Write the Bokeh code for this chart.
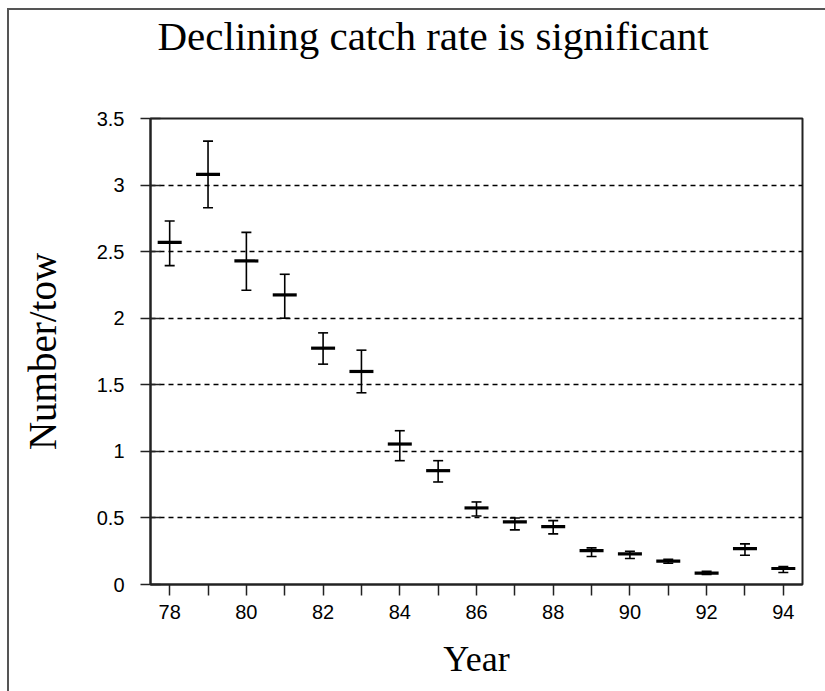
from bokeh.plotting import figure
from bokeh.models import FixedTicker, Range1d, ColumnDataSource, Title
from bokeh.layouts import column
from bokeh.embed import file_html
from bokeh.resources import INLINE

# ---- data ----
years = [78, 79, 80, 81, 82, 83, 84, 85, 86, 87, 88, 89, 90, 91, 92, 93, 94]
mean_catch = [2.57, 3.08, 2.43, 2.175, 1.775, 1.60, 1.055, 0.855, 0.575, 0.47,
              0.435, 0.255, 0.23, 0.175, 0.085, 0.27, 0.12]
upper_ci = [2.73, 3.33, 2.645, 2.33, 1.89, 1.76, 1.155, 0.93, 0.62, 0.50,
            0.48, 0.275, 0.25, 0.19, 0.10, 0.305, 0.135]
lower_ci = [2.395, 2.83, 2.21, 2.0, 1.655, 1.44, 0.93, 0.77, 0.515, 0.41,
            0.38, 0.21, 0.195, 0.16, 0.075, 0.22, 0.09]
x_major_ticks = [78, 80, 82, 84, 86, 88, 90, 92, 94]
x_minor_ticks = [79, 81, 83, 85, 87, 89, 91, 93]
y_ticks = [0, 0.5, 1, 1.5, 2, 2.5, 3, 3.5]
y_tick_labels = ["0", "0.5", "1", "1.5", "2", "2.5", "3", "3.5"]

title_text = "Declining catch rate is significant"
x_label = "Year"
y_label = "Number/tow"

src = ColumnDataSource(dict(year=years, mean=mean_catch, upper=upper_ci, lower=lower_ci))

p = figure(width=816, height=681,
           x_range=Range1d(77.5, 94.5), y_range=Range1d(0, 3.5),
           output_backend="svg", toolbar_location=None,
           min_border_left=141, min_border_right=23,
           min_border_top=108, min_border_bottom=107,
           background_fill_color="white", border_fill_color="white")

# title (outermost) plus a blank spacer title between it and the frame
p.title.text = title_text
p.title.align = "left"
p.title.offset = 7
p.title.text_font = "Liberation Serif"
p.title.text_font_size = "41px"
p.title.text_font_style = "normal"
p.title.text_color = "black"
p.title.standoff = 0
spacer = Title(text=" ", text_font_size="10px", standoff=47)
p.add_layout(spacer, "above")

# frame outline
p.outline_line_color = "#222222"
p.outline_line_width = 2
p.outline_line_alpha = 1

# x axis
xa = p.xaxis[0]
xa.ticker = FixedTicker(ticks=x_major_ticks, minor_ticks=x_minor_ticks)
xa.axis_line_color = "#222222"
xa.axis_line_width = 2
xa.major_tick_line_color = "#222222"
xa.major_tick_line_width = 1.5
xa.major_tick_in = 0
xa.major_tick_out = 11
xa.minor_tick_line_color = "#222222"
xa.minor_tick_line_width = 1.5
xa.minor_tick_in = 0
xa.minor_tick_out = 11
xa.major_label_text_font = "Liberation Sans"
xa.major_label_text_font_size = "20px"
xa.major_label_text_color = "black"
xa.major_label_standoff = 9
xa.axis_label = x_label
xa.axis_label_text_font = "Liberation Serif"
xa.axis_label_text_font_size = "36px"
xa.axis_label_text_font_style = "normal"
xa.axis_label_text_color = "black"
xa.axis_label_standoff = 17

# y axis
ya = p.yaxis[0]
ya.ticker = FixedTicker(ticks=y_ticks)
ya.major_label_overrides = {t: s for t, s in zip(y_ticks, y_tick_labels)}
ya.axis_line_color = "#222222"
ya.axis_line_width = 2
ya.major_tick_line_color = "#222222"
ya.major_tick_line_width = 1.5
ya.major_tick_in = 10
ya.major_tick_out = 10
ya.minor_tick_line_color = None
ya.major_label_text_font = "Liberation Sans"
ya.major_label_text_font_size = "20px"
ya.major_label_text_color = "black"
ya.major_label_standoff = 16
ya.axis_label = y_label
ya.axis_label_text_font = "Liberation Serif"
ya.axis_label_text_font_size = "39px"
ya.axis_label_text_font_style = "normal"
ya.axis_label_text_color = "black"
ya.axis_label_standoff = 30

# grid
p.xgrid.grid_line_color = None
p.ygrid.ticker = FixedTicker(ticks=y_ticks)
p.ygrid.grid_line_color = "black"
p.ygrid.grid_line_width = 1.3
p.ygrid.grid_line_dash = "5 4"

# error bars
p.segment(x0="year", y0="lower", x1="year", y1="upper", source=src,
          line_color="black", line_width=1.6)
p.scatter(x="year", y="upper", source=src, marker="dash", size=10,
          line_color="black", line_width=1.6)
p.scatter(x="year", y="lower", source=src, marker="dash", size=10,
          line_color="black", line_width=1.6)
p.scatter(x="year", y="mean", source=src, marker="dash", size=24,
          line_color="black", line_width=3.2)

layout = column(p, styles={"border-left": "2px solid #555555",
                           "border-top": "2px solid #555555",
                           "margin-left": "7px", "margin-top": "8px"})

open("out.html", "w").write(file_html(layout, INLINE))
